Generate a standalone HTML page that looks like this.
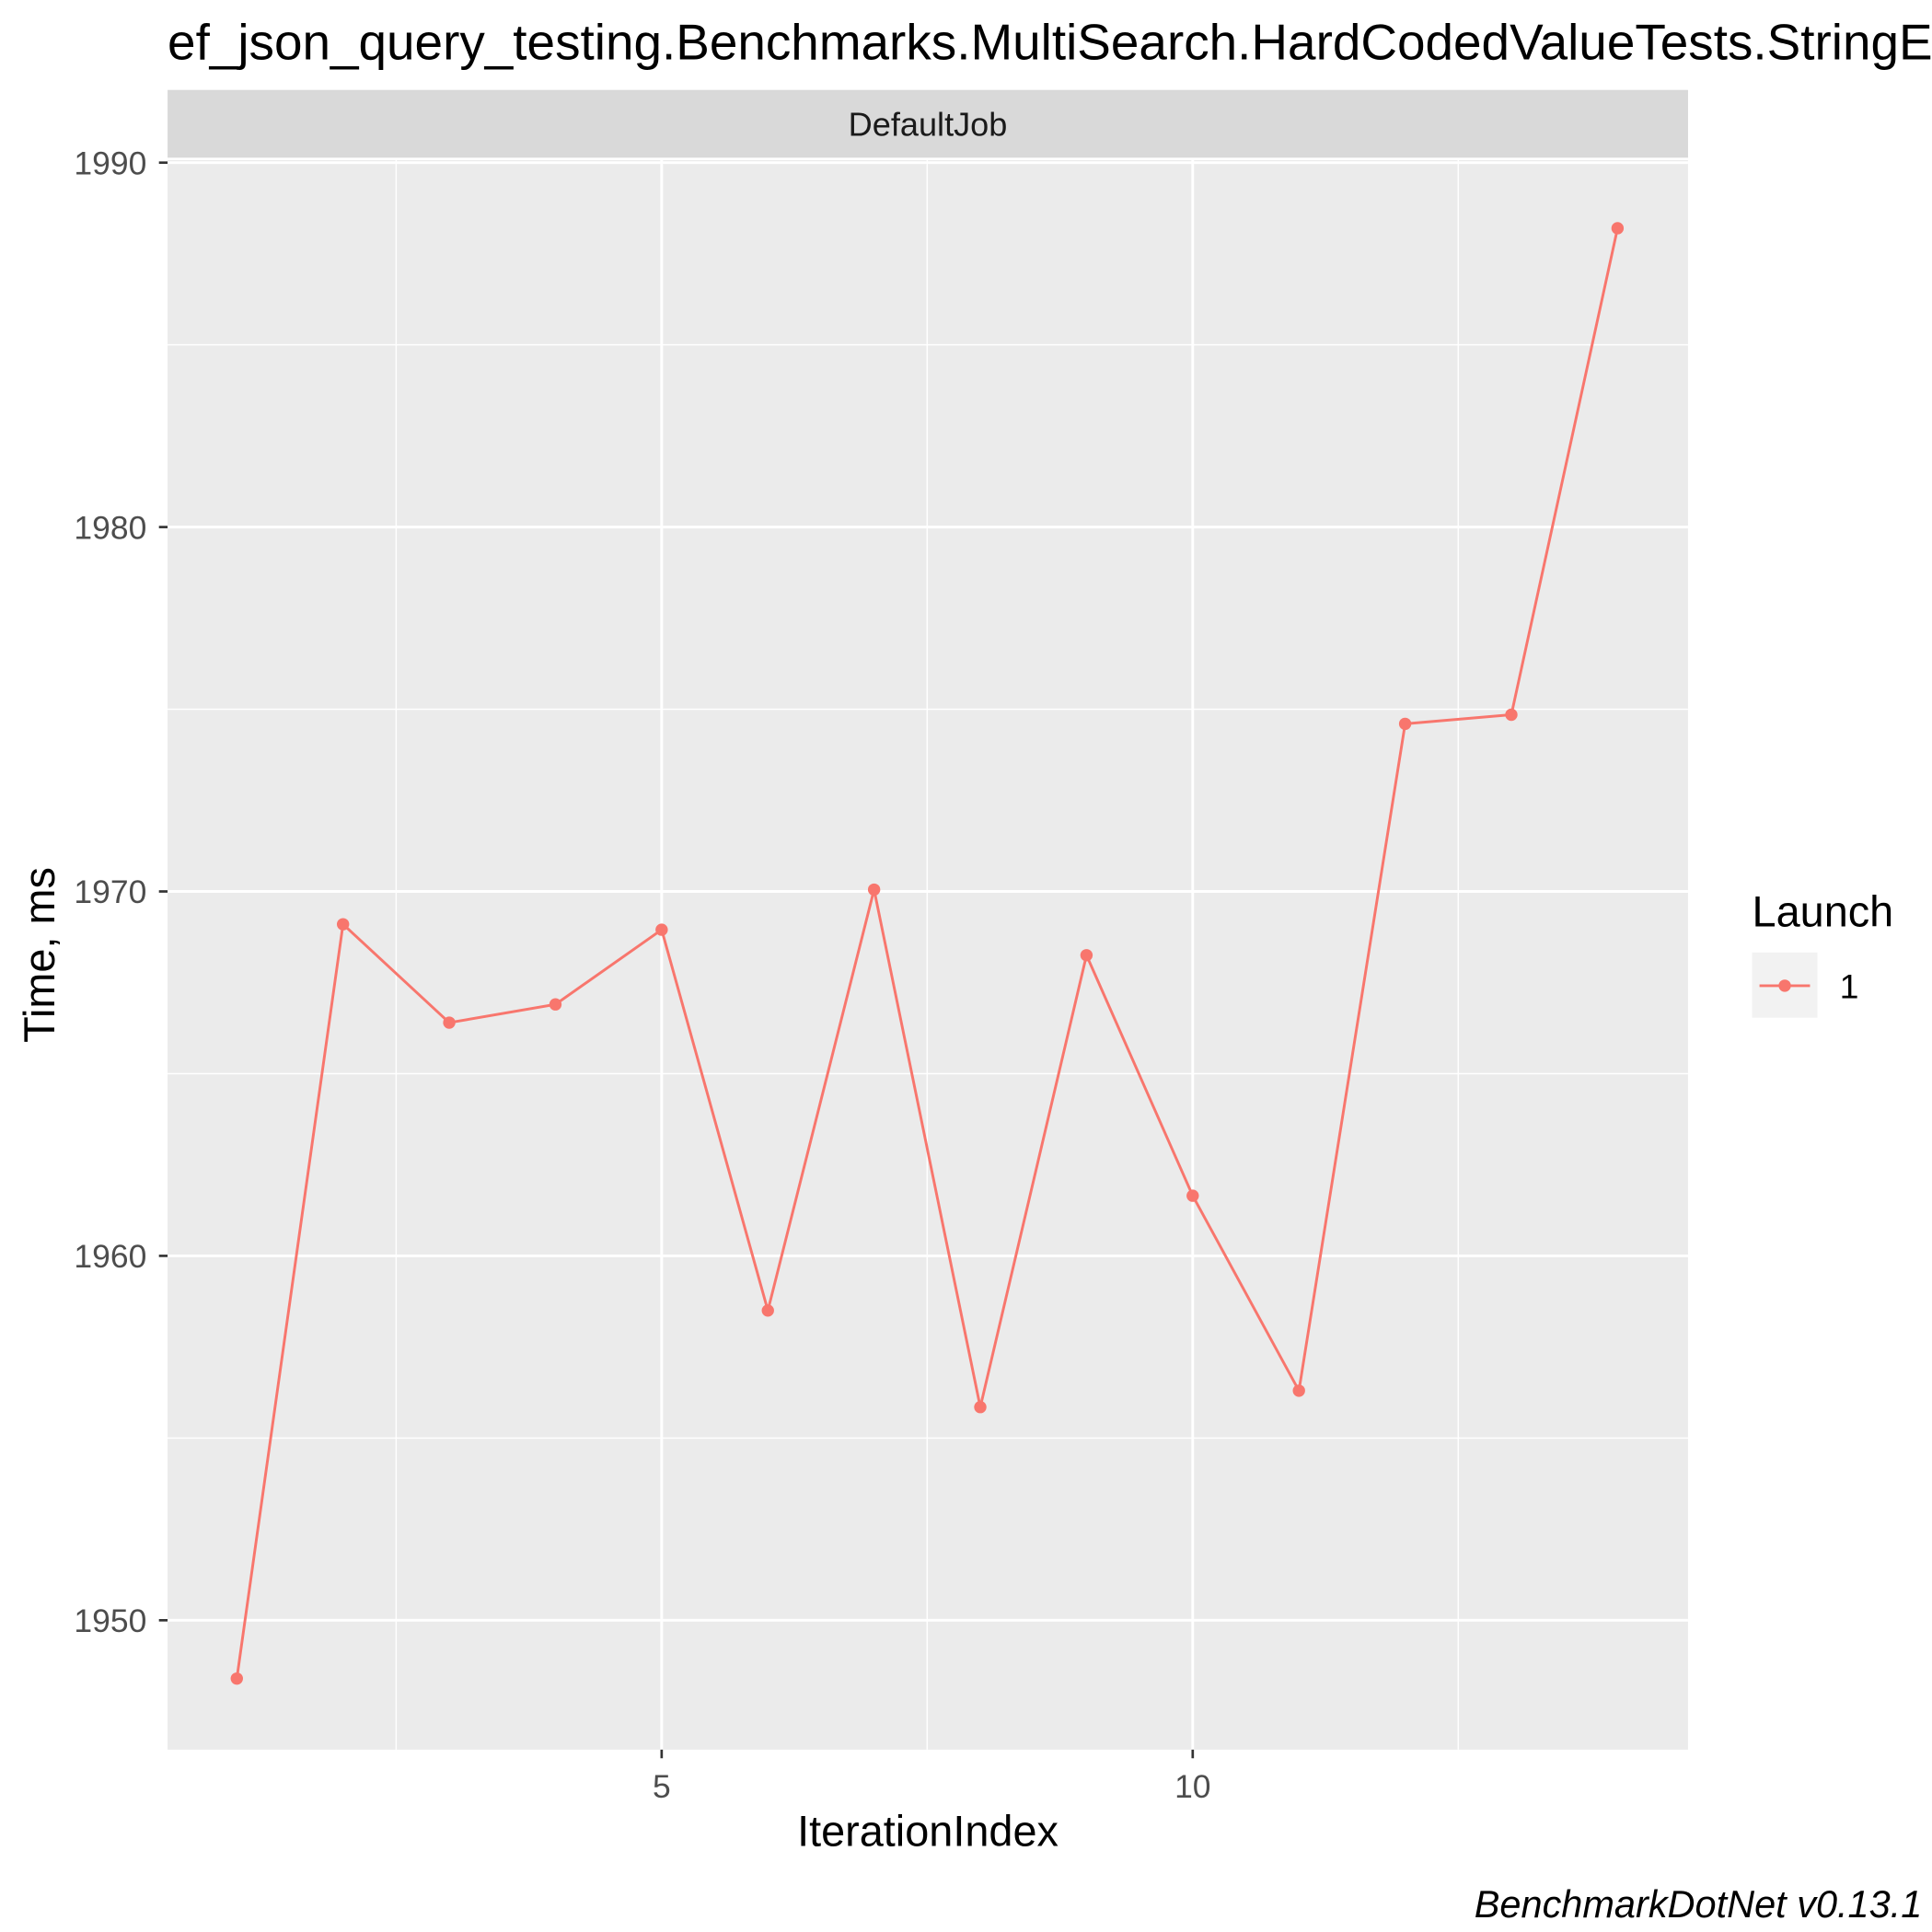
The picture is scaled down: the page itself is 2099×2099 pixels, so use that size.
<!DOCTYPE html>
<html><head><meta charset="utf-8"><style>html,body{margin:0;padding:0;background:#fff;overflow:hidden}svg{display:block}text{font-family:"Liberation Sans",Arial,sans-serif}</style></head>
<body>
<svg id="chart" width="2099" height="2099" viewBox="0 0 1568 1568" xmlns="http://www.w3.org/2000/svg">
<rect width="1568" height="1568" fill="#fff"/>
<text x="136" y="48" font-size="41" fill="#000">ef_json_query_testing.Benchmarks.MultiSearch.HardCodedValueTests.StringEquals</text>
<rect x="136" y="73" width="1234" height="55" fill="#d9d9d9"/>
<text x="753" y="110" font-size="27" fill="#1a1a1a" text-anchor="middle">DefaultJob</text>
<rect x="136" y="130" width="1234" height="1290" fill="#ebebeb"/>
<g id="grid"></g>
<g id="axes"></g>
<g id="series"></g>
<text x="753" y="1498" font-size="35" fill="#000" text-anchor="middle">IterationIndex</text>
<text transform="translate(44,775) rotate(-90)" font-size="35" fill="#000" text-anchor="middle">Time, ms</text>
<text x="1422" y="752" font-size="35" fill="#000">Launch</text>
<rect x="1422" y="773" width="53" height="53" fill="#f2f2f2"/>
<line x1="1428" y1="800" x2="1469" y2="800" stroke="#F8766D" stroke-width="2.2"/>
<circle cx="1448.5" cy="800" r="5" fill="#F8766D"/>
<text x="1493" y="810" font-size="28" fill="#000">1</text>
<text x="1560" y="1556" font-size="31" font-style="italic" fill="#000" text-anchor="end">BenchmarkDotNet v0.13.1</text>
</svg>
<script>
const iterations=[1,2,3,4,5,6,7,8,9,10,11,12,13,14];
const times=[1948.4,1969.1,1966.4,1966.9,1968.95,1958.5,1970.05,1955.85,1968.25,1961.65,1956.3,1974.6,1974.85,1988.2];
const yTicks=[1950,1960,1970,1980,1990];
const yMinor=[1955,1965,1975,1985];
const xTicks=[5,10];
const xMinor=[2.5,7.5,12.5];
const NS="http://www.w3.org/2000/svg";
function xs(v){return 537+(v-5)*86.2;}
function ys(v){return 132+(1990-v)*29.575;}
function mk(tag,attrs,parent){const e=document.createElementNS(NS,tag);for(const k in attrs)e.setAttribute(k,attrs[k]);document.getElementById(parent).appendChild(e);return e;}
yMinor.forEach(v=>{const l=mk('line',{x1:136,x2:1370,y1:ys(v),y2:ys(v),stroke:'#fff','stroke-width':1.1},'grid');

});
xMinor.forEach(v=>{const l=mk('line',{x1:xs(v),x2:xs(v),y1:130,y2:1420,stroke:'#fff','stroke-width':1.1},'grid');

});
yTicks.forEach(v=>{const l=mk('line',{x1:136,x2:1370,y1:ys(v),y2:ys(v),stroke:'#fff','stroke-width':2.2},'grid');


const t=mk('line',{x1:129,x2:136,y1:ys(v),y2:ys(v),stroke:'#333','stroke-width':2},'axes');


const tx=mk('text',{x:119,y:ys(v)+9.5,'font-size':26.5,fill:'#4d4d4d','text-anchor':'end'},'axes');
tx.textContent=v;

});
xTicks.forEach(v=>{const l=mk('line',{x1:xs(v),x2:xs(v),y1:130,y2:1420,stroke:'#fff','stroke-width':2.2},'grid');


const t=mk('line',{x1:xs(v),x2:xs(v),y1:1420,y2:1427,stroke:'#333','stroke-width':2},'axes');


const tx=mk('text',{x:xs(v),y:1459,'font-size':26.5,fill:'#4d4d4d','text-anchor':'middle'},'axes');
tx.textContent=v;

});
const pts=iterations.map((it,i)=>xs(it)+','+ys(times[i])).join(' ');
const pl=mk('polyline',{points:pts,fill:'none',stroke:'#F8766D','stroke-width':2.2},'series');


iterations.forEach((it,i)=>{const c=mk('circle',{cx:xs(it),cy:ys(times[i]),r:5,fill:'#F8766D'},'series');

});
</script>
</body></html>
